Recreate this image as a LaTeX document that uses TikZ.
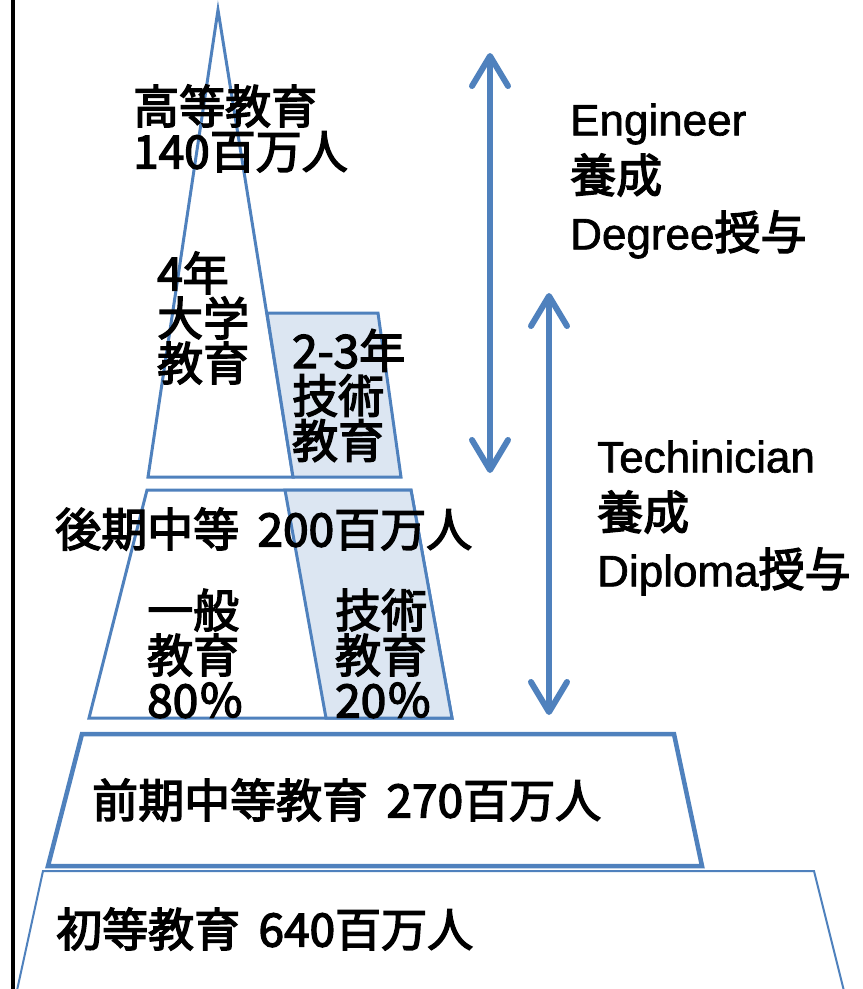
\documentclass[tikz,border=0pt]{standalone}
\usepackage{fontspec}
\setmainfont{Noto Sans CJK JP}[AutoFakeBold=3]
\newfontfamily\latinfont{Liberation Sans}[AutoFakeBold=1.5]
\usetikzlibrary{arrows.meta}
\definecolor{lineblue}{HTML}{4F81BD}
\definecolor{techfill}{HTML}{DCE6F2}
\newcommand{\lat}[1]{{\latinfont\fontsize{44}{57}\selectfont #1}}
\newcommand{\hsp}{\hspace{0.4em}}
\begin{document}
\begin{tikzpicture}[x=1pt,y=-1pt,
  tier/.style={draw=lineblue, line width=3pt, line join=miter, fill=white},
  techtier/.style={tier, fill=techfill},
  lbl/.style={inner sep=0pt, anchor=west, align=left, font={\bfseries\fontsize{46}{45}\selectfont}},
  rlbl/.style={lbl, font={\bfseries\fontsize{46}{57}\selectfont}},
  dbl/.style={draw=lineblue, line width=6pt,
    {Straight Barb[length=30pt,width=36pt,round]}-{Straight Barb[length=30pt,width=36pt,round]}}
]
\useasboundingbox (0,0) rectangle (863,989);
% left axis line
\draw[line width=4pt] (12.5,0) -- (12.5,989);
% primary
\draw[draw=lineblue, line width=2pt, fill=white] (16,995) -- (43,871) -- (814,871) -- (845,995);
% lower secondary
\draw[tier, line width=4.5pt] (82,734) -- (674,734) -- (702,866) -- (48,866) -- cycle;
% upper secondary
\draw[tier] (147,490) -- (411,490) -- (452,718) -- (89,718) -- cycle;
\draw[techtier] (285,490) -- (411,490) -- (452,718) -- (326,718) -- cycle;
% higher education
\draw[tier] (218,10) -- (293,477) -- (148,477) -- cycle;
\draw[techtier] (267,313) -- (378,313) -- (401,477) -- (293,477) -- cycle;
% arrows
\coordinate (a1t) at (490,53);
\coordinate (a1b) at (490,473);
\coordinate (a2t) at (549,293);
\coordinate (a2b) at (549,715);
\draw[dbl] (a1t) -- (a1b);
\draw[dbl] (a2t) -- (a2b);
% labels
\node[lbl] (high) at (133,128.5) {高等教育\\140百万人};
\node[lbl] (univ) at (157,318) {4年\\大学\\教育};
\node[lbl] (tech3) at (292,395.5) {2-3年\\技術\\教育};
\node[lbl] (upper) at (55,529) {後期中等\hsp200百万人};
\node[lbl] (gen) at (147,653.5) {一般\\教育\\80％};
\node[lbl] (voc) at (335,653.5) {技術\\教育\\20％};
\node[lbl] (lower) at (92,800) {前期中等教育\hsp270百万人};
\node[lbl] (prim) at (56,929) {初等教育\hsp640百万人};
\node[rlbl] (eng) at (570,181) {\lat{Engineer}\\養成\\\lat{Degree}授与};
\node[rlbl] (techn) at (597,518) {\lat{Techinician}\\養成\\\lat{Diploma}授与};
\end{tikzpicture}
\end{document}
